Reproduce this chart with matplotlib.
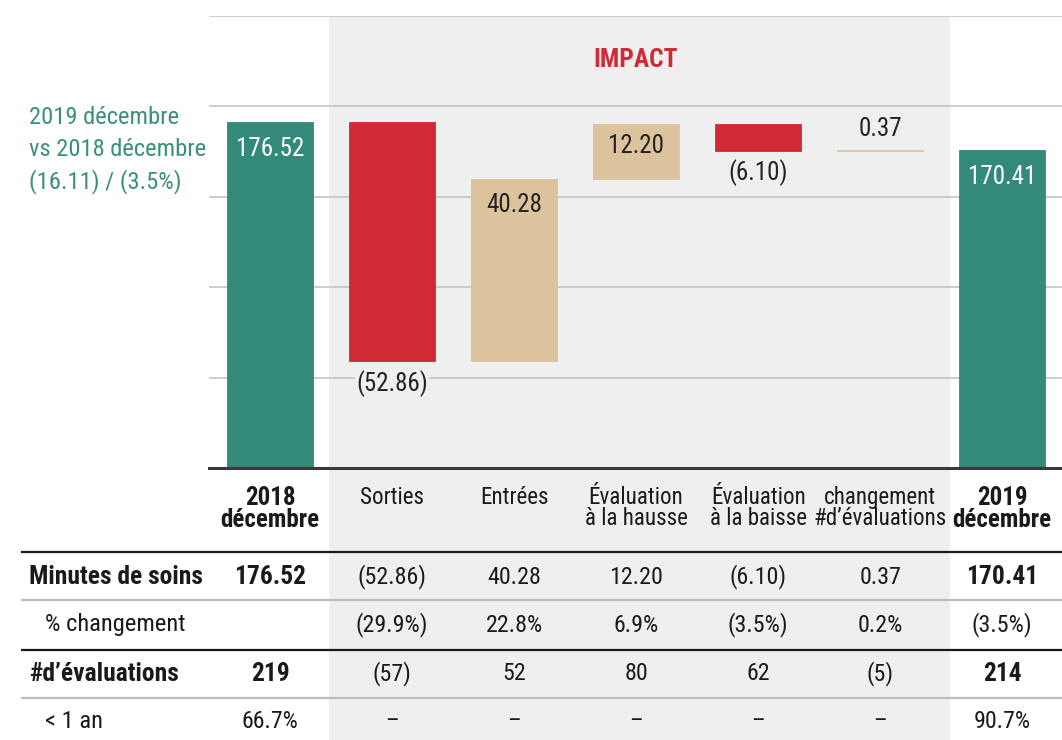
import matplotlib
matplotlib.use("Agg")
import matplotlib.pyplot as plt
import matplotlib.transforms as mtransforms
from matplotlib.patches import Rectangle
from matplotlib.lines import Line2D
import numpy as np

plt.rcParams['font.family'] = ['Roboto Condensed', 'Roboto', 'DejaVu Sans']

#------------------ data ------------------------------
categories = ['2018\ndécembre', 'Sorties', 'Entrées', 'Évaluation\nà la hausse',
              'Évaluation\nà la baisse', 'changement\n#d’évaluations', '2019\ndécembre']
start_value = 176.52
changes = [-52.86, 40.28, 12.20, -6.10, 0.37]
end_value = 170.41
pct_change = ['', '(29.9%)', '22.8%', '6.9%', '(3.5%)', '0.2%', '(3.5%)']
nb_evals = [219, -57, 52, 80, 62, -5, 214]
moins_1an = ['66.7%', '–', '–', '–', '–', '–', '90.7%']
summary_lines = ['2019 décembre', 'vs 2018 décembre', '(16.11) / (3.5%)']

TEAL = '#33897A'
RED = '#CF2A36'
TAN = '#DCC39E'
BAND = '#EFEFEF'
GRID = '#C4C4C4'

W, H = 1062, 740
def fy(y):
    return 1 - y / H
def pt(px):
    return px * 0.72

def fmt(v, nd=2):
    s = f"{abs(v):.{nd}f}"
    return f"({s})" if v < 0 else s

fig = plt.figure(figsize=(W / 100, H / 100), dpi=100)
ax = fig.add_axes([209 / W, fy(468), (W - 209) / W, (468 - 16) / H])
ax.patch.set_visible(False)

n = len(categories)
xs = np.arange(n)

# waterfall bottoms / heights
values = [start_value] + changes + [end_value]
bottoms, heights, colors = [], [], []
run = start_value
bottoms.append(0); heights.append(start_value); colors.append(TEAL)
for c in changes:
    bottoms.append(min(run, run + c)); heights.append(abs(c))
    colors.append(TAN if c > 0 else RED)
    run += c
bottoms.append(0); heights.append(end_value); colors.append(TEAL)

ax.bar(xs, heights, bottom=bottoms, width=0.70, color=colors,
       edgecolor=colors, linewidth=0.6, zorder=3)

ax.set_xlim(-0.5, 6.49)
ax.set_ylim(100, 200)
ax.set_yticks([120, 140, 160, 180, 200])
ax.grid(axis='y', color=GRID, lw=1.2, zorder=1)
ax.set_axisbelow(True)
for s in ax.spines.values():
    s.set_visible(False)
ax.axhline(100, color='#3a3a3a', lw=2.2, zorder=4, clip_on=False)
ax.tick_params(left=False, bottom=False, labelleft=False, labelbottom=False)

# grey impact band through chart and table
blend = mtransforms.blended_transform_factory(ax.transData, fig.transFigure)
ax.add_patch(Rectangle((0.48, 0), 5.57 - 0.48, fy(16), transform=blend,
                       facecolor=BAND, edgecolor='none', clip_on=False, zorder=0.1))

ax.text(3, fy(60), 'IMPACT', transform=blend, ha='center', va='center',
        color=RED, fontsize=pt(25.5), fontweight='bold')

# bar labels (offset in px, + is up)
offsets = [-27, -23, -26, -22, -21, 21, -27]
tops = [b + h for b, h in zip(bottoms, heights)]
for i in range(n):
    v = values[i]
    if i in (0, n - 1):
        y0, col = tops[i], 'white'
    elif offsets[i] > 0:
        y0, col = tops[i], '#222222'
    elif v < 0:
        y0, col = bottoms[i], '#222222'
    else:
        y0, col = tops[i], '#222222'
    kw = {}
    if v < 0 and i == 1:
        kw['bbox'] = dict(facecolor=BAND, edgecolor='none', pad=1)
    ax.annotate(fmt(v), (i, y0), xytext=(0, pt(offsets[i])), textcoords='offset points',
                ha='center', va='center', color=col, fontsize=pt(25), zorder=5, **kw)

# left summary text
for k, line in enumerate(summary_lines):
    fig.text(29 / W, fy(118 + 32 * k), line, ha='left', va='center',
             color='#3A9079', fontsize=pt(24.5))

# ---------------- table ----------------
for i, cat in enumerate(categories):
    bold = i in (0, n - 1)
    ax.text(i, fy(486), cat, transform=blend, ha='center', va='top',
            fontsize=pt(25 if bold else 23), fontweight='bold' if bold else 'normal',
            color='#1a1a1a', linespacing=0.9, clip_on=False)

row_y = [577, 625, 674, 722]
row_labels = ['Minutes de soins', '% changement', '#d’évaluations', '< 1 an']
row_x = [29, 45, 29, 45]
row_bold = [True, False, True, False]
for y, lab, x0, b in zip(row_y, row_labels, row_x, row_bold):
    fig.text(x0 / W, fy(y), lab, ha='left', va='center', fontsize=pt(25.5 if b else 24.5),
             fontweight='bold' if b else 'normal', color='#1a1a1a')

minutes_txt = [fmt(v) for v in values]
evals_txt = [fmt(v, 0) for v in nb_evals]
rows = [minutes_txt, pct_change, evals_txt, moins_1an]
for r, (y, cells) in enumerate(zip(row_y, rows)):
    for i, txt in enumerate(cells):
        bold = row_bold[r] and i in (0, n - 1)
        ax.text(i, fy(y), txt, transform=blend, ha='center', va='center',
                fontsize=pt(25.5 if bold else 24), fontweight='bold' if bold else 'normal',
                color='#1a1a1a', clip_on=False)

for y, c, lw in [(552, '#1a1a1a', 1.6), (600, '#BDBDBD', 1.6),
                 (650, '#1a1a1a', 1.6), (698, '#BDBDBD', 1.6)]:
    fig.add_artist(Line2D([22 / W, 1], [fy(y), fy(y)], color=c, lw=lw,
                          transform=fig.transFigure))

fig.savefig('out.png', dpi=100)
